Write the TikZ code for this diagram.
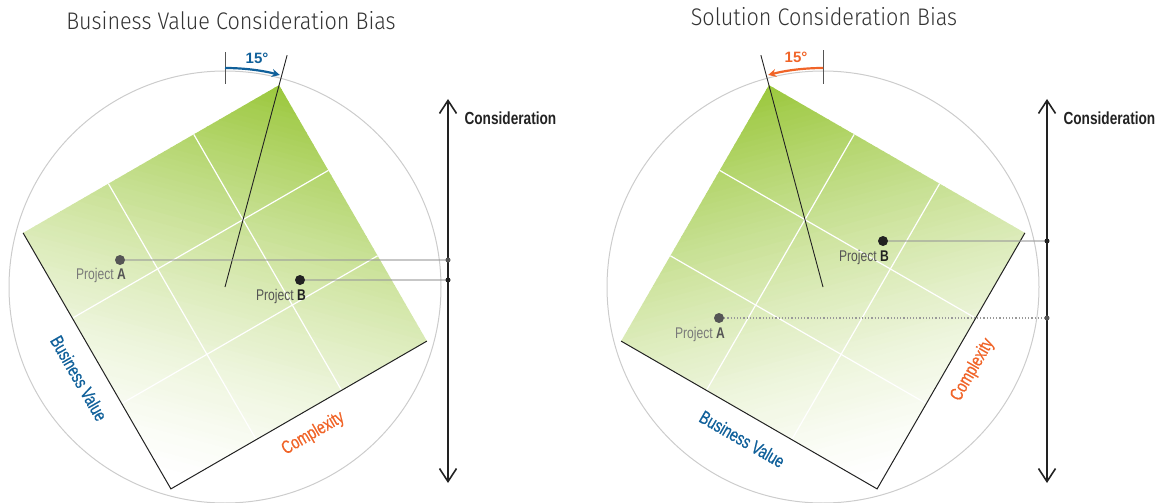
\documentclass[tikz,border=0pt]{standalone}
\usepackage{fontspec}
\setmainfont{Liberation Sans}
\newfontfamily\titlefont[FakeStretch=0.9]{Fira Sans Light}
\newfontfamily\condfont[FakeStretch=0.78]{Liberation Sans}
\newfontfamily\axisfont[FakeStretch=0.75, FakeBold=0.6]{Liberation Sans}
\usetikzlibrary{arrows.meta}
\definecolor{circgray}{HTML}{CCCCCC}
\definecolor{leafgreen}{HTML}{9AC73A}
\definecolor{bvblue}{HTML}{10609A}
\definecolor{cxorange}{HTML}{F06428}
\definecolor{ink}{HTML}{222222}
\definecolor{dotgray}{HTML}{555555}
\definecolor{labgray}{HTML}{7A7A7A}
\definecolor{titlegray}{HTML}{333333}
\tikzset{
  ring/.style={draw=circgray, line width=1},
  gridline/.style={draw=white, line width=1.2},
  edgeline/.style={draw=ink, line width=1},
  diagline/.style={draw=ink, line width=0.9},
  tickline/.style={draw=dotgray, line width=1},
  axisline/.style={draw=ink, line width=1.6,
    {Straight Barb[length=13pt,width=17pt]}-{Straight Barb[length=13pt,width=17pt]}},
  conn/.style={draw=black!40, opacity=0.55, line width=1.5},
  dotconn/.style={draw=black!40, line width=1.2, dotted},
  bigdot/.style={circle, inner sep=0pt, minimum size=10pt},
  axdot/.style={circle, inner sep=0pt, minimum size=5pt},
  titletext/.style={font=\titlefont\fontsize{24}{28}\selectfont, text=titlegray},
  constext/.style={font=\condfont\bfseries\fontsize{17.5}{20}\selectfont, text=ink, anchor=west},
  bvtext/.style={font=\axisfont\fontsize{18.5}{20}\selectfont, text=bvblue},
  cxtext/.style={font=\axisfont\fontsize{18.5}{20}\selectfont, text=cxorange},
  degtext/.style={font=\bfseries\fontsize{15}{18}\selectfont},
  projtext/.style={font=\condfont\fontsize{15.5}{18}\selectfont, anchor=east, inner sep=0pt},
}
\begin{document}
\begin{tikzpicture}[x=1pt,y=1pt]
\useasboundingbox (0,0) rectangle (1168,-503);

% ================= LEFT PANEL =================
\node[titletext] (Ltitle) at (231,-21) {Business Value Consideration Bias};
\coordinate (Lc) at (225,-287);
\draw[ring] (Lc) circle[radius=216];
\begin{scope}
  \clip ([shift={(75:209)}]Lc) -- ([shift={(165:209)}]Lc) -- ([shift={(255:209)}]Lc) -- ([shift={(345:209)}]Lc) -- cycle;
  \begin{scope}[shift={(Lc)}, rotate=-15]
    \foreach \i in {0,...,83} {
      \pgfmathtruncatemacro\pc{100*((\i+0.5)/84)^1.45}
      \fill[leafgreen!\pc!white] (-215,-210+5*\i) rectangle (215,-209.4+5*\i+5);
    }
  \end{scope}
\end{scope}
\begin{scope}[shift={(Lc)}, rotate=30]
  \draw[gridline] (-49.3,-147.8) -- (-49.3,147.8);
  \draw[gridline] (49.3,-147.8) -- (49.3,147.8);
  \draw[gridline] (-147.8,-49.3) -- (147.8,-49.3);
  \draw[gridline] (-147.8,49.3) -- (147.8,49.3);
  \draw[edgeline] (-147.8,147.8) -- (-147.8,-147.8) -- (147.8,-147.8);
  \node[bvtext, rotate=-60] (Lbv) at (-172,-6) {Business Value};
  \node[cxtext, rotate=30] (Lcx) at (3,-171) {Complexity};
\end{scope}
\coordinate (Lend) at ([shift={(75:240)}]Lc);
\draw[diagline] (Lc) -- (Lend);
\coordinate (Ltick1) at ([shift={(90:203)}]Lc);
\coordinate (Ltick2) at ([shift={(90:235)}]Lc);
\draw[tickline] (Ltick1) -- (Ltick2);
\draw[bvblue, line width=2.2, -{Stealth[length=8pt,width=8pt]}]
  ([shift={(90:219)}]Lc) arc[start angle=90, end angle=75.5, radius=219];
\node[degtext, text=bvblue] (Ldeg) at (257,-58) {15°};

\coordinate (Ltop) at (448,-99);
\coordinate (Lbot) at (448,-483);
\draw[axisline] (Lbot) -- (Ltop);
\node[constext] (Lcons) at (461,-118) {Consideration};

\coordinate (LAx) at (448,-260);
\coordinate (LBx) at (448,-280);
\node[bigdot, fill=dotgray] (LA) at (120,-260) {};
\node[bigdot, fill=ink] (LB) at (300,-280) {};
\draw[conn] (LA) -- (LAx);
\draw[conn] (LB) -- (LBx);
\node[axdot, fill=dotgray] (LAd) at (LAx) {};
\node[axdot, fill=ink] (LBd) at (LBx) {};
\node[projtext, text=labgray] (LAl) at (126,-275) {Project \textbf{\color{dotgray}A}};
\node[projtext, text=dotgray] (LBl) at (306,-296) {Project \textbf{\color{ink}B}};

% ================= RIGHT PANEL =================
\node[titletext] (Rtitle) at (824,-17) {Solution Consideration Bias};
\coordinate (Rc) at (823,-287);
\draw[ring] (Rc) circle[radius=216];
\begin{scope}
  \clip ([shift={(105:209)}]Rc) -- ([shift={(195:209)}]Rc) -- ([shift={(285:209)}]Rc) -- ([shift={(15:209)}]Rc) -- cycle;
  \begin{scope}[shift={(Rc)}, rotate=15]
    \foreach \i in {0,...,83} {
      \pgfmathtruncatemacro\pc{100*((\i+0.5)/84)^1.45}
      \fill[leafgreen!\pc!white] (-215,-210+5*\i) rectangle (215,-209.4+5*\i+5);
    }
  \end{scope}
\end{scope}
\begin{scope}[shift={(Rc)}, rotate=60]
  \draw[gridline] (-49.3,-147.8) -- (-49.3,147.8);
  \draw[gridline] (49.3,-147.8) -- (49.3,147.8);
  \draw[gridline] (-147.8,-49.3) -- (147.8,-49.3);
  \draw[gridline] (-147.8,49.3) -- (147.8,49.3);
  \draw[edgeline] (-147.8,147.8) -- (-147.8,-147.8) -- (147.8,-147.8);
  \node[bvtext, rotate=-30] (Rbv) at (-172,-6) {Business Value};
  \node[cxtext, rotate=60] (Rcx) at (3,-171) {Complexity};
\end{scope}
\coordinate (Rend) at ([shift={(105:240)}]Rc);
\draw[diagline] (Rc) -- (Rend);
\coordinate (Rtick1) at ([shift={(90:203)}]Rc);
\coordinate (Rtick2) at ([shift={(90:237)}]Rc);
\draw[tickline] (Rtick1) -- (Rtick2);
\draw[cxorange, line width=2.2, -{Stealth[length=8pt,width=8pt]}]
  ([shift={(90:219)}]Rc) arc[start angle=90, end angle=104.5, radius=219];
\node[degtext, text=cxorange] (Rdeg) at (796,-57) {15°};

\coordinate (Rtop) at (1047,-99);
\coordinate (Rbot) at (1047,-483);
\draw[axisline] (Rbot) -- (Rtop);
\node[constext] (Rcons) at (1060,-118) {Consideration};

\coordinate (RAx) at (1047,-318);
\coordinate (RBx) at (1047,-241);
\node[bigdot, fill=dotgray] (RA) at (719,-318) {};
\node[bigdot, fill=ink] (RB) at (883,-241) {};
\draw[dotconn] (RA) -- (RAx);
\draw[conn] (RB) -- (RBx);
\node[axdot, fill=dotgray] (RAd) at (RAx) {};
\node[axdot, fill=ink] (RBd) at (RBx) {};
\node[projtext, text=labgray] (RAl) at (725,-334) {Project \textbf{\color{dotgray}A}};
\node[projtext, text=dotgray] (RBl) at (889,-257) {Project \textbf{\color{ink}B}};
\end{tikzpicture}
\end{document}
